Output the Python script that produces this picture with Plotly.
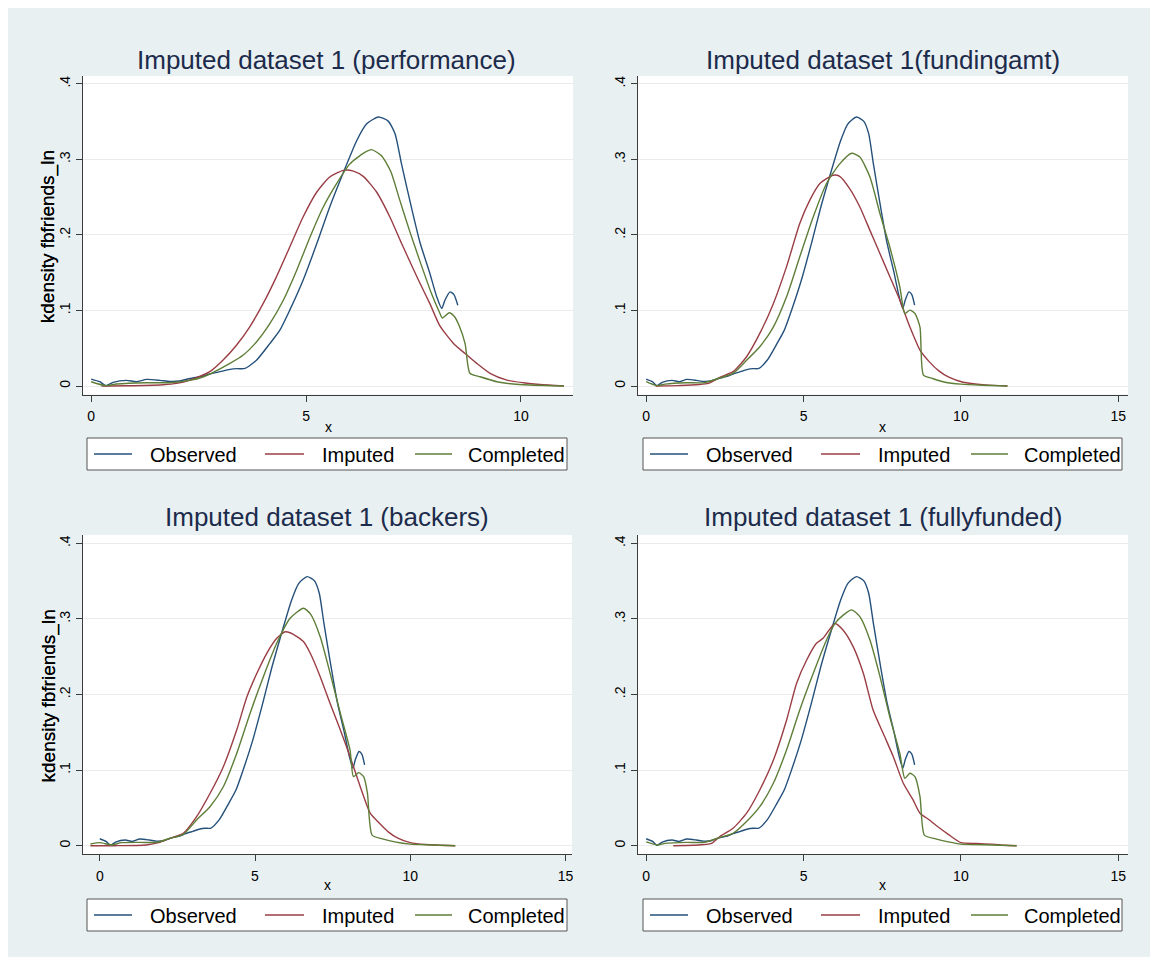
import plotly.graph_objects as go

# ---------------- data ----------------
titles = ["Imputed dataset 1 (performance)", "Imputed dataset 1(fundingamt)",
          "Imputed dataset 1 (backers)", "Imputed dataset 1 (fullyfunded)"]
series_names = ["Observed", "Imputed", "Completed"]
y_tick_vals = [0, 0.1, 0.2, 0.3, 0.4]
y_tick_text = ["0", ".1", ".2", ".3", ".4"]
x_ticks_p1 = [0, 5, 10]
x_ticks_other = [0, 5, 10, 15]
y_title = "kdensity fbfriends_ln"
x_title = "x"

# Observed density (same in every panel)
obs_x = [0.0, 0.2, 0.34, 0.51, 0.82, 1.05, 1.29, 1.6, 1.83, 2.06, 2.3, 2.6, 2.76, 3.0, 3.23, 3.4, 3.58,
         3.85, 4.16, 4.39, 4.62, 4.93, 5.25, 5.55, 5.87, 6.18, 6.41, 6.68, 6.91, 7.07, 7.22, 7.44,
         7.65, 7.87, 8.04, 8.155, 8.23, 8.35, 8.44, 8.53]
obs_y = [0.0092, 0.0057, 0.0004, 0.0048, 0.0075, 0.0057, 0.0088, 0.0075, 0.006, 0.0066, 0.010, 0.013,
         0.0159, 0.019, 0.022, 0.023, 0.0233, 0.0344, 0.0564, 0.074, 0.1004, 0.140, 0.1885, 0.237, 0.283,
         0.325, 0.347, 0.356, 0.3506, 0.334, 0.294, 0.239, 0.19, 0.151, 0.118, 0.1026, 0.1136, 0.1246,
         0.121, 0.107]

# Panel 1 (performance)
imp1_x = [0.24, 0.84, 1.67, 1.99, 2.3, 2.76, 3.07, 3.38, 3.69, 4.0, 4.31, 4.62, 4.93, 5.25, 5.55, 5.87,
          6.1, 6.33, 6.64, 6.95, 7.22, 7.6, 7.88, 8.11, 8.43, 8.70, 8.97, 9.28, 9.67, 10.05, 10.44, 11.0]
imp1_y = [0.0, 0.0003, 0.0018, 0.0035, 0.008, 0.019, 0.0344, 0.054, 0.0784, 0.109, 0.1445, 0.184, 0.2237,
          0.2568, 0.2766, 0.2854, 0.2845, 0.2775, 0.2568, 0.2237, 0.189, 0.142, 0.109, 0.08, 0.0564, 0.043,
          0.030, 0.0168, 0.0079, 0.0044, 0.002, 0.0]
com1_x = [0.0, 0.34, 0.59, 1.29, 1.83, 2.29, 2.6, 2.76, 3.23, 3.54, 3.85, 4.16, 4.47, 4.78, 5.09, 5.4, 5.71,
          6.02, 6.33, 6.52, 6.75, 6.97, 7.18, 7.41, 7.65, 7.92, 8.1, 8.17, 8.33, 8.45, 8.56, 8.70, 8.81,
          9.05, 9.44, 9.82, 10.2, 11.0]
com1_y = [0.0057, 0.0005, 0.0026, 0.0044, 0.0044, 0.0075, 0.012, 0.0159, 0.030, 0.041, 0.0586, 0.0828,
          0.1136, 0.153, 0.197, 0.237, 0.268, 0.294, 0.308, 0.3128, 0.305, 0.284, 0.246, 0.205, 0.165,
          0.122, 0.098, 0.090, 0.097, 0.092, 0.080, 0.056, 0.017, 0.0123, 0.0057, 0.0026, 0.0013, 0.0]

# Panel 2 (fundingamt)
imp2_x = [0.3, 1.0, 1.98, 2.34, 2.76, 3.19, 3.61, 4.04, 4.46, 4.88, 5.20, 5.52, 5.94, 6.15, 6.47, 6.79,
          7.11, 7.43, 7.74, 8.06, 8.38, 8.7, 9.0, 9.3, 9.6, 10.07, 10.78, 11.48]
imp2_y = [0.0, 0.0005, 0.0035, 0.0115, 0.019, 0.0388, 0.0696, 0.109, 0.158, 0.215, 0.246, 0.268, 0.279,
          0.2775, 0.261, 0.237, 0.206, 0.175, 0.145, 0.1136, 0.078, 0.0476, 0.032, 0.02, 0.012, 0.005,
          0.0015, 0.0]
com2_x = [0.0, 0.34, 0.6, 1.3, 1.85, 2.34, 2.76, 3.19, 3.61, 4.04, 4.46, 4.88, 5.31, 5.73, 6.15, 6.53,
          6.79, 7.11, 7.43, 7.74, 8.06, 8.22, 8.38, 8.54, 8.7, 8.81, 9.1, 9.5, 10.0, 10.7, 11.48]
com2_y = [0.0057, 0.0005, 0.0026, 0.0044, 0.0044, 0.0106, 0.0167, 0.034, 0.052, 0.078, 0.118, 0.171,
          0.224, 0.268, 0.294, 0.308, 0.303, 0.2766, 0.228, 0.184, 0.131, 0.096, 0.1004, 0.096, 0.078,
          0.0145, 0.010, 0.005, 0.0025, 0.001, 0.0]

# Panel 3 (backers)
imp3_x = [-0.3, 0.5, 1.5, 1.9, 2.26, 2.69, 3.12, 3.55, 3.98, 4.41, 4.74, 5.06, 5.38, 5.70, 5.97, 6.13,
          6.35, 6.56, 6.78, 7.1, 7.42, 7.75, 8.06, 8.39, 8.71, 9.0, 9.3, 9.6, 10.0, 10.5, 11.45]
imp3_y = [0.0, 0.0, 0.001, 0.004, 0.0098, 0.0164, 0.0384, 0.069, 0.1045, 0.153, 0.197, 0.228, 0.2545,
          0.2743, 0.283, 0.2817, 0.2765, 0.27, 0.2545, 0.2236, 0.188, 0.153, 0.118, 0.078, 0.043, 0.03,
          0.018, 0.01, 0.004, 0.0015, 0.0]
com3_x = [-0.3, 0.0, 0.38, 0.7, 1.3, 1.85, 2.26, 2.69, 3.12, 3.55, 3.98, 4.41, 4.84, 5.27, 5.70, 6.13,
          6.56, 6.78, 7.1, 7.42, 7.75, 8.06, 8.17, 8.34, 8.5, 8.62, 8.77, 9.1, 9.5, 10.0, 10.7, 11.45]
com3_y = [0.0022, 0.004, 0.001, 0.004, 0.0044, 0.0044, 0.0098, 0.015, 0.034, 0.0516, 0.078, 0.122, 0.175,
          0.2236, 0.2677, 0.3008, 0.314, 0.307, 0.2765, 0.228, 0.175, 0.1266, 0.0913, 0.0966, 0.0913,
          0.07, 0.014, 0.009, 0.005, 0.002, 0.001, 0.0]

# Panel 4 (fullyfunded)
imp4_x = [0.86, 1.5, 2.08, 2.34, 2.76, 3.19, 3.61, 4.04, 4.46, 4.78, 5.1, 5.41, 5.62, 6.0, 6.26, 6.58,
          6.9, 7.21, 7.53, 7.85, 8.17, 8.48, 8.7, 9.0, 9.3, 9.6, 10.0, 10.5, 11.0, 11.4, 11.77]
imp4_y = [0.0, 0.0005, 0.003, 0.012, 0.023, 0.043, 0.0737, 0.113, 0.166, 0.215, 0.2456, 0.2677, 0.2743,
          0.294, 0.285, 0.263, 0.228, 0.1795, 0.1487, 0.118, 0.0825, 0.0605, 0.043, 0.034, 0.024, 0.015,
          0.004, 0.003, 0.002, 0.0005, 0.0]
com4_x = [0.0, 0.35, 0.6, 1.3, 1.85, 2.34, 2.76, 3.19, 3.61, 4.04, 4.46, 4.88, 5.31, 5.73, 6.0, 6.26,
          6.53, 6.79, 7.11, 7.43, 7.74, 8.06, 8.22, 8.38, 8.54, 8.7, 8.84, 9.2, 9.6, 10.0, 11.0, 11.77]
com4_y = [0.005, 0.001, 0.003, 0.0044, 0.0044, 0.011, 0.0164, 0.032, 0.0516, 0.0825, 0.1266, 0.1795,
          0.228, 0.272, 0.294, 0.305, 0.312, 0.303, 0.272, 0.2236, 0.1706, 0.122, 0.089, 0.0958, 0.0913,
          0.065, 0.014, 0.009, 0.005, 0.002, 0.001, 0.0]

panels_data = [
    ((obs_x, obs_y), (imp1_x, imp1_y), (com1_x, com1_y)),
    ((obs_x, obs_y), (imp2_x, imp2_y), (com2_x, com2_y)),
    ((obs_x, obs_y), (imp3_x, imp3_y), (com3_x, com3_y)),
    ((obs_x, obs_y), (imp4_x, imp4_y), (com4_x, com4_y)),
]

# ---------------- layout / style ----------------
# The page body keeps its default 8px white margin, which gives the white frame.
W, H = 1142, 949
FONT = "Liberation Sans, Arial, Helvetica, sans-serif"
colors = ["#24507a", "#9a3e45", "#5e7e38"]
bg = "#e9f0f2"

# plot boxes in figure pixels: left, right, top, bottom ; x range ; y range ; x ticks
boxes = [
    (75, 565, 68, 386.5, [-0.19, 11.21], [-0.0112, 0.4103], x_ticks_p1),
    (630, 1120, 68, 386.5, [-0.26, 15.31], [-0.0112, 0.4103], x_ticks_other),
    (75, 564, 527, 846, [-0.54, 15.21], [-0.011, 0.411], x_ticks_other),
    (630, 1120, 527, 846, [-0.26, 15.31], [-0.011, 0.411], x_ticks_other),
]
title_pos = [(318, 52), (875, 52), (319, 509), (875, 509)]
xtitle_y = [419, 419, 877, 877]
ytitle_x = 40
legend_boxes = [(79, 430, 559, 462), (635, 430, 1114, 462), (79, 891, 559, 923), (635, 891, 1114, 923)]
legend_line_off = [(7, 45), (178, 217), (328, 365)]
legend_text_off = [61, 233, 379]


def px(x):
    return x / W


def py(y):
    return 1 - y / H


fig = go.Figure()
annotations, shapes = [], []
layout = dict(
    width=W, height=H, margin=dict(l=0, r=0, t=0, b=0),
    paper_bgcolor=bg, plot_bgcolor="white",
    font=dict(family=FONT, color="black"), showlegend=False,
)

for i, (data, box) in enumerate(zip(panels_data, boxes)):
    l, r, t, b, xr, yr, xt = box
    sfx = "" if i == 0 else str(i + 1)
    for k, (xs, ys) in enumerate(data):
        fig.add_trace(go.Scatter(
            x=xs, y=ys, mode="lines", name=series_names[k],
            line=dict(color=colors[k], width=1.4, shape="spline", smoothing=0.6),
            xaxis="x" + sfx, yaxis="y" + sfx, hoverinfo="skip",
        ))
    layout["xaxis" + sfx] = dict(
        domain=[px(l), px(r)], range=xr, anchor="y" + sfx,
        showline=True, linecolor="#3c3c3c", linewidth=1,
        ticks="outside", ticklen=6, tickcolor="#3c3c3c",
        ticklabelposition="outside", ticklabelstandoff=3,
        tickvals=xt, ticktext=[str(v) for v in xt],
        tickfont=dict(size=14, color="black"), showgrid=False, zeroline=False,
    )
    layout["yaxis" + sfx] = dict(
        domain=[py(b), py(t)], range=yr, anchor="x" + sfx,
        showline=True, linecolor="#3c3c3c", linewidth=1,
        ticks="outside", ticklen=6, tickcolor="#3c3c3c",
        tickvals=y_tick_vals, ticktext=y_tick_text, tickangle=-90,
        tickfont=dict(size=14, color="black"),
        showgrid=True, gridcolor="#ebebeb", gridwidth=1, zeroline=False,
    )
    # panel title
    tx, ty = title_pos[i]
    annotations.append(dict(
        text=titles[i], x=px(tx), y=py(ty), xref="paper", yref="paper",
        xanchor="center", yanchor="middle", showarrow=False,
        font=dict(size=26, color="#1c2b4b", family=FONT),
    ))
    # axis titles
    annotations.append(dict(
        text=y_title, x=px(ytitle_x), y=py((t + b) / 2 + 2), xref="paper", yref="paper",
        xanchor="center", yanchor="middle", textangle=-90, showarrow=False,
        font=dict(size=19, color="black", family=FONT),
    ))
    annotations.append(dict(
        text=x_title, x=px((l + r) / 2), y=py(xtitle_y[i]), xref="paper", yref="paper",
        xanchor="center", yanchor="middle", showarrow=False,
        font=dict(size=14, color="black", family=FONT),
    ))
    # legend box
    bx0, by0, bx1, by1 = legend_boxes[i]
    shapes.append(dict(type="rect", xref="paper", yref="paper",
                       x0=px(bx0), x1=px(bx1), y0=py(by1), y1=py(by0),
                       line=dict(color="#555555", width=1), fillcolor="white", layer="above"))
    cy = (by0 + by1) / 2
    for k in range(3):
        a, c = legend_line_off[k]
        shapes.append(dict(type="line", xref="paper", yref="paper",
                           x0=px(bx0 + a), x1=px(bx0 + c), y0=py(cy), y1=py(cy),
                           line=dict(color=colors[k], width=1.4), layer="above"))
        annotations.append(dict(
            text=series_names[k], x=px(bx0 + legend_text_off[k]), y=py(cy + 1),
            xref="paper", yref="paper", xanchor="left", yanchor="middle", showarrow=False,
            font=dict(size=20, color="black", family=FONT),
        ))

layout["annotations"] = annotations
layout["shapes"] = shapes
fig.update_layout(**layout)
fig.write_html("out.html")
